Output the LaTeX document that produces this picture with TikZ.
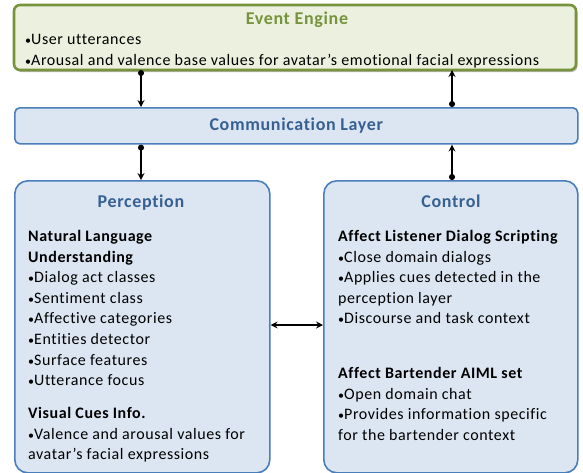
\documentclass[tikz,border=0pt]{standalone}
\usepackage{fontspec}
\setmainfont{Carlito}[LetterSpace=3.6,Ligatures=NoCommon]
\usetikzlibrary{arrows.meta,shadows}
\definecolor{egfill}{HTML}{EBF1DE}
\definecolor{egline}{HTML}{77933C}
\definecolor{blfill}{HTML}{DCE6F2}
\definecolor{blline}{HTML}{4A7EBB}
\definecolor{bltext}{HTML}{376092}
\newcommand{\bul}{{\fontsize{12}{12}\selectfont•}}
\tikzset{
  greenbox/.style={draw=egline,line width=2.6pt,fill=egfill,rounded corners=6pt,
    drop shadow={shadow xshift=1.5pt,shadow yshift=-2pt,fill=black!45,opacity=0.6}},
  bluebox/.style={draw=blline,line width=1.6pt,fill=blfill},
  btitle/.style={font=\fontsize{18}{19}\selectfont\bfseries,text=bltext,inner sep=0pt},
  gtitle/.style={font=\fontsize{18}{19}\selectfont\bfseries,text=egline,inner sep=0pt},
  body/.style={font=\fontsize{16}{20.6}\selectfont,align=left,anchor=north west,inner sep=0pt},
  conn/.style={line width=1.4pt,-{Stealth[length=7pt,width=7pt,inset=2.5pt]}},
  dotted start/.style={{Circle[length=6pt]}-{Stealth[length=7pt,width=7pt,inset=2.5pt]}},
  both/.style={line width=1.4pt,{Stealth[length=7pt,width=7pt,inset=2.5pt]}-{Stealth[length=7pt,width=7pt,inset=2.5pt]}}
}
\begin{document}
\begin{tikzpicture}[x=1pt,y=-1pt]
\useasboundingbox (0,0) rectangle (583,472);
% boxes
\path[greenbox] (14,5) rectangle (576,70);
\node[bluebox,rounded corners=5pt,minimum width=563pt,minimum height=36pt,anchor=north west,inner sep=0pt] (comm) at (14,107) {};
\node[btitle] at (comm.center) {Communication Layer};
\node[bluebox,rounded corners=13pt,minimum width=255pt,minimum height=292pt,anchor=north west,inner sep=0pt] (perc) at (14,180) {};
\node[bluebox,rounded corners=13pt,minimum width=254pt,minimum height=292pt,anchor=north west,inner sep=0pt] (ctrl) at (323,180) {};
% event engine text
\node[gtitle,anchor=base] (evtitle) at (297,24) {Event Engine};
\node[body] (evbody) at (25,34) {\bul User utterances\\\bul Arousal and valence base values for avatar’s emotional facial expressions};
% perception text
\node[btitle,anchor=base] (ptitle) at (141,207) {Perception};
\node[body] (nlu) at (28,230) {\textbf{Natural Language}\\\textbf{Understanding}\\\bul Dialog act classes\\\bul Sentiment class\\\bul Affective categories\\\bul Entities detector\\\bul Surface features\\\bul Utterance focus};
\node[body] (vis) at (28,407) {\textbf{Visual Cues Info.}\\\bul Valence and arousal values for\\avatar’s facial expressions};
% control text
\node[btitle,anchor=base] (ctitle) at (451,207) {Control};
\node[body] (alds) at (338,230) {\textbf{Affect Listener Dialog Scripting}\\\bul Close domain dialogs\\\bul Applies cues detected in the\\perception layer\\\bul Discourse and task context};
\node[body] (bart) at (338,367) {\textbf{Affect Bartender AIML set}\\\bul Open domain chat\\\bul Provides information specific\\for the bartender context};
% connectors
\coordinate (e1) at (141,70);
\coordinate (e2) at (452,70);
\draw[conn,dotted start] (e1) -- (e1 |- comm.north);
\draw[conn,dotted start] (e2 |- comm.north) -- (e2);
\draw[conn,dotted start] (e1 |- comm.south) -- (e1 |- perc.north);
\draw[conn,dotted start] (e2 |- ctrl.north) -- (e2 |- comm.south);
\draw[both] (perc.east |- 0,325) -- (ctrl.west |- 0,325);
\end{tikzpicture}
\end{document}
